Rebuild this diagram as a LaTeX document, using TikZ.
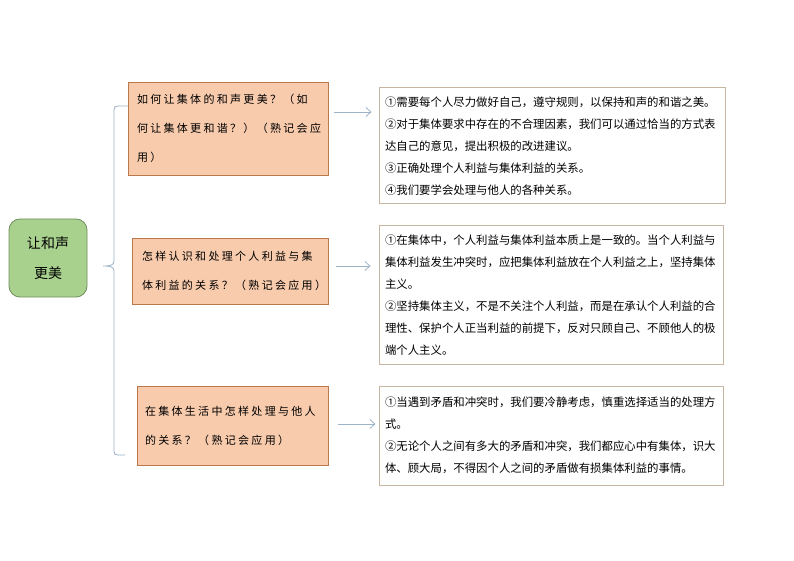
\documentclass[tikz,border=0pt]{standalone}
\usepackage{fontspec}
\usetikzlibrary{arrows.meta}
\newfontfamily\cjk{Noto Sans CJK SC}
\newfontfamily\cjkspaced[LetterSpace=21]{Noto Sans CJK SC}
\definecolor{peach}{HTML}{F8CBAD}
\definecolor{peachline}{HTML}{B9794C}
\definecolor{leaf}{HTML}{A9D18E}
\definecolor{leafline}{HTML}{6F8E5C}
\definecolor{tanline}{HTML}{C6B6A1}
\definecolor{linkblue}{HTML}{9DB3C8}
\begin{document}
\begin{tikzpicture}[x=1pt,y=-1pt,
  rootbox/.style={draw=leafline,fill=leaf,line width=0.8pt,rounded corners=11pt,
    minimum width=78pt,minimum height=78pt,inner sep=0pt,align=center,
    font=\cjk\fontsize{14}{30}\selectfont},
  qbox/.style={draw=peachline,fill=peach,line width=0.8pt,inner xsep=8pt,inner ysep=0pt,
    align=left,font=\cjkspaced\fontsize{11}{29}\selectfont},
  abox/.style={draw=tanline,fill=white,line width=1pt,inner xsep=6pt,inner ysep=0pt,
    align=left,font=\cjk\fontsize{11.4}{22}\selectfont},
  link/.style={draw=linkblue,line width=0.8pt,-{Straight Barb[length=5pt,width=9pt]}},
  brace/.style={draw=linkblue,line width=0.8pt}]
\useasboundingbox (0,0) rectangle (794,561);
\fill[white] (0,0) rectangle (794,561);

% root
\node[rootbox] (root) at (48,258) {让和声\\更美};

% question boxes
\node[qbox,minimum width=198pt,minimum height=93pt,text width=182pt,inner xsep=9pt] (b1) at (228,128.5)
  {如何让集体的和声更美？（如\\何让集体更和谐？）（熟记会应\\用）};
\node[qbox,minimum width=192pt,minimum height=66pt,text width=176pt,inner xsep=10pt] (b2) at (230,271)
  {怎样认识和处理个人利益与集\\体利益的关系？（熟记会应用）};
\node[qbox,minimum width=191pt,minimum height=79pt,text width=175pt] (b3) at (232.5,425.5)
  {在集体生活中怎样处理与他人\\的关系？（熟记会应用）};

% answer boxes
\node[abox,minimum width=346pt,minimum height=116pt,text width=334pt] (t1) at (552,146)
  {①需要每个人尽力做好自己，遵守规则，以保持和声的和谐之美。\\
   ②对于集体要求中存在的不合理因素，我们可以通过恰当的方式表\\
   达自己的意见，提出积极的改进建议。\\
   ③正确处理个人利益与集体利益的关系。\\
   ④我们要学会处理与他人的各种关系。};
\node[abox,minimum width=344pt,minimum height=138pt,text width=332pt] (t2) at (551,295)
  {①在集体中，个人利益与集体利益本质上是一致的。当个人利益与\\
   集体利益发生冲突时，应把集体利益放在个人利益之上，坚持集体\\
   主义。\\
   ②坚持集体主义，不是不关注个人利益，而是在承认个人利益的合\\
   理性、保护个人正当利益的前提下，反对只顾自己、不顾他人的极\\
   端个人主义。};
\node[abox,minimum width=344pt,minimum height=99pt,text width=332pt] (t3) at (551,435.5)
  {①当遇到矛盾和冲突时，我们要冷静考虑，慎重选择适当的处理方\\
   式。\\
   ②无论个人之间有多大的矛盾和冲突，我们都应心中有集体，识大\\
   体、顾大局，不得因个人之间的矛盾做有损集体利益的事情。};

% brace
\coordinate (bt) at (128,106);
\coordinate (bm) at (103,266);
\coordinate (bb) at (125,455);
\draw[brace] (bt) -- (118,106) .. controls (115,106) and (114,107) .. (114,110)
  -- (114,261) .. controls (114,265) and (111,266) .. (bm)
  (bm) .. controls (111,266) and (114,267) .. (114,271)
  -- (114,451) .. controls (114,454) and (115,455) .. (118,455) -- (bb);

% arrows
\draw[link] ([xshift=6pt]b1.east |- 0,112) -- ([xshift=-7pt]t1.west |- 0,112);
\draw[link] ([xshift=8pt]b2.east |- 0,266) -- ([xshift=-8pt]t2.west |- 0,266);
\draw[link] ([xshift=10pt]b3.east |- 0,424) -- ([xshift=-3pt]t3.west |- 0,424);
\end{tikzpicture}
\end{document}
